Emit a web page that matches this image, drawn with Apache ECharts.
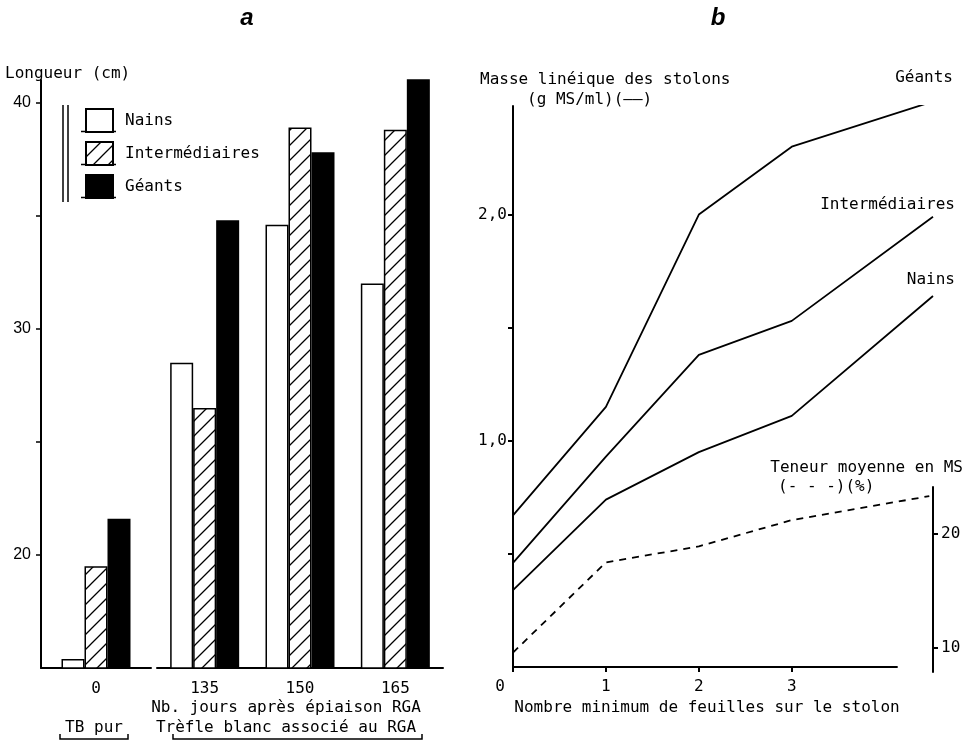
<!DOCTYPE html>
<html>
<head>
<meta charset="utf-8">
<script src="https://cdn.jsdelivr.net/npm/echarts@6/dist/echarts.min.js"></script>
<style>
  body { margin: 0; background: #fff; }
  #chart { width: 966px; height: 744px; }
</style>
</head>
<body>
<div id="chart"></div>
<script>
// panel a : stolon length by class
const groupPure = ['0'];
const groupRGA = ['135', '150', '165'];
const lenNains = [15.4, 28.5, 34.6, 32.0];
const lenInter = [19.5, 26.5, 38.9, 38.8];
const lenGeants = [21.6, 34.8, 37.8, 41.5];
const lenTicks = [20, 25, 30, 35, 40];
const lenLabels = [20, 30, 40];

// panel b : linear mass vs minimum number of leaves
const leaves = [0, 1, 2, 3, 4.52];
const massGeants = [0.67, 1.15, 2.0, 2.30, 2.50];
const massInter = [0.46, 0.93, 1.38, 1.53, 1.99];
const massNains = [0.34, 0.74, 0.95, 1.11, 1.64];
const leavesDm = [0, 1, 2, 3, 4.48];
const dmContent = [9.6, 17.5, 18.9, 21.2, 23.3];
const leafTicks = [0, 1, 2, 3];
const leafAxisEnd = 4.14;
const massTicks = [0.5, 1, 1.5, 2];
const massLabels = [1, 2];
const dmTicks = [10, 20];

const MONO = '"DejaVu Sans Mono", monospace';
const SANS = '"Liberation Sans", Arial, sans-serif';

// hatch pattern for the intermediate class
const hatch = document.createElement('canvas');
hatch.width = 15;
hatch.height = 15;
(function () {
  const c = hatch.getContext('2d');
  c.fillStyle = '#fff';
  c.fillRect(0, 0, 15, 15);
  c.strokeStyle = '#000';
  c.lineWidth = 1.3;
  c.beginPath();
  c.moveTo(0, 15); c.lineTo(15, 0);
  c.moveTo(-2, 2); c.lineTo(2, -2);
  c.moveTo(13, 17); c.lineTo(17, 13);
  c.stroke();
})();
const hatchFill = { image: hatch, repeat: 'repeat' };

const pair = (xs, ys) => xs.map((x, i) => [x, ys[i]]);

const chartDom = document.getElementById('chart');
const myChart = echarts.init(chartDom);

const barBase = {
  type: 'bar',
  barWidth: 23,
  barGap: '0%',
};
const lineBase = {
  type: 'line',
  symbol: 'none',
  xAxisIndex: 2,
  yAxisIndex: 2,
  lineStyle: { color: '#000', width: 1.8 },
};
const txt = (text, x, y, align) => ({
  type: 'text',
  style: { text: text, x: x, y: y, textAlign: align || 'left', textVerticalAlign: 'middle',
    font: '16px ' + MONO, fill: '#000' },
});

const option = {
  animation: false,
  backgroundColor: '#fff',
  legend: {
    data: ['Nains', 'Intermédiaires', 'Géants'],
    orient: 'vertical',
    left: 85,
    top: 108,
    padding: 0,
    itemWidth: 27,
    itemHeight: 23,
    itemGap: 8,
    icon: 'rect',
    selectedMode: false,
    textStyle: { fontFamily: MONO, fontSize: 16, color: '#000', padding: [0, 0, 0, 7] },
  },
  grid: [
    { left: 41, top: 80, width: 110, height: 588 },
    { left: 157, top: 80, width: 286, height: 588 },
    { left: 513, top: 106, width: 420, height: 561 },
    { left: 513, top: 487, width: 420, height: 185 },
  ],
  xAxis: [
    {
      gridIndex: 0, type: 'category', data: groupPure,
      axisLine: { lineStyle: { color: '#000', width: 2 } },
      axisTick: { show: false },
      axisLabel: { color: '#000', fontFamily: MONO, fontSize: 16, margin: 13 },
    },
    {
      gridIndex: 1, type: 'category', data: groupRGA,
      axisLine: { lineStyle: { color: '#000', width: 2 } },
      axisTick: { show: false },
      axisLabel: { color: '#000', fontFamily: MONO, fontSize: 16, margin: 13 },
    },
    {
      gridIndex: 2, type: 'value', min: 0, max: 4.52,
      splitLine: { show: false },
      axisLine: { show: false },
      axisTick: { show: true, customValues: leafTicks, length: 5, lineStyle: { color: '#000', width: 2 } },
      axisLabel: {
        customValues: leafTicks, color: '#000', fontFamily: MONO, fontSize: 16, margin: 12,
        formatter: (v) => (v === 0 ? '{z|0}' : String(v)),
        rich: { z: { fontFamily: MONO, fontSize: 16, color: '#000', padding: [0, 26, 0, 0] } },
      },
    },
    {
      gridIndex: 3, type: 'value', min: 0, max: 4.52, show: false,
    },
  ],
  yAxis: [
    {
      gridIndex: 0, type: 'value', min: 15, max: 41,
      splitLine: { show: false },
      axisLine: { show: true, lineStyle: { color: '#000', width: 2 } },
      axisTick: { show: true, customValues: lenTicks, length: 5, lineStyle: { color: '#000', width: 1.5 } },
      axisLabel: { customValues: lenLabels, color: '#000', fontFamily: SANS, fontSize: 16, margin: 10 },
    },
    {
      gridIndex: 1, type: 'value', min: 15, max: 41, show: false,
    },
    {
      gridIndex: 2, type: 'value', min: 0, max: 2.48,
      splitLine: { show: false },
      axisLine: { show: true, onZero: false, lineStyle: { color: '#000', width: 2 } },
      axisTick: { show: true, customValues: massTicks, length: 5, lineStyle: { color: '#000', width: 2 } },
      axisLabel: {
        customValues: massLabels, color: '#000', fontFamily: MONO, fontSize: 16, margin: 6,
        formatter: (v) => v.toFixed(1).replace('.', ','),
      },
    },
    {
      gridIndex: 3, type: 'value', min: 7.9, max: 24.1, position: 'right',
      splitLine: { show: false },
      axisLine: { show: true, onZero: false, lineStyle: { color: '#000', width: 2 } },
      axisTick: { show: true, customValues: dmTicks, length: 5, lineStyle: { color: '#000', width: 2 } },
      axisLabel: { customValues: dmTicks, color: '#000', fontFamily: MONO, fontSize: 16, margin: 8 },
    },
  ],
  series: [
    Object.assign({}, barBase, { name: 'Nains', xAxisIndex: 0, yAxisIndex: 0, data: lenNains.slice(0, 1),
      itemStyle: { color: '#fff', borderColor: '#000', borderWidth: 1.5 } }),
    Object.assign({}, barBase, { name: 'Intermédiaires', xAxisIndex: 0, yAxisIndex: 0, data: lenInter.slice(0, 1),
      itemStyle: { color: hatchFill, borderColor: '#000', borderWidth: 1.5 } }),
    Object.assign({}, barBase, { name: 'Géants', xAxisIndex: 0, yAxisIndex: 0, data: lenGeants.slice(0, 1),
      itemStyle: { color: '#000', borderColor: '#000', borderWidth: 1.5 } }),
    Object.assign({}, barBase, { name: 'Nains', xAxisIndex: 1, yAxisIndex: 1, data: lenNains.slice(1),
      itemStyle: { color: '#fff', borderColor: '#000', borderWidth: 1.5 } }),
    Object.assign({}, barBase, { name: 'Intermédiaires', xAxisIndex: 1, yAxisIndex: 1, data: lenInter.slice(1),
      itemStyle: { color: hatchFill, borderColor: '#000', borderWidth: 1.5 } }),
    Object.assign({}, barBase, { name: 'Géants', xAxisIndex: 1, yAxisIndex: 1, data: lenGeants.slice(1),
      itemStyle: { color: '#000', borderColor: '#000', borderWidth: 1.5 } }),
    Object.assign({}, lineBase, {
      name: 'Géants (b)', data: pair(leaves, massGeants),
      // x axis line of panel b stops before the end of the curves
      markLine: {
        silent: true, symbol: 'none', label: { show: false },
        lineStyle: { color: '#000', width: 2, type: 'solid' },
        data: [[{ coord: [0, 0] }, { coord: [leafAxisEnd, 0] }]],
      },
    }),
    Object.assign({}, lineBase, { name: 'Intermédiaires (b)', data: pair(leaves, massInter) }),
    Object.assign({}, lineBase, { name: 'Nains (b)', data: pair(leaves, massNains) }),
    Object.assign({}, lineBase, {
      name: 'Teneur MS', xAxisIndex: 3, yAxisIndex: 3, data: pair(leavesDm, dmContent),
      lineStyle: { color: '#000', width: 1.8, type: [7, 6] },
    }),
  ],
  graphic: [
    { type: 'text', style: { text: 'a', x: 247, y: 18, textAlign: 'center', textVerticalAlign: 'middle',
      font: 'italic bold 24px ' + SANS, fill: '#000' } },
    { type: 'text', style: { text: 'b', x: 718, y: 18, textAlign: 'center', textVerticalAlign: 'middle',
      font: 'italic bold 24px ' + SANS, fill: '#000' } },
    txt('Longueur (cm)', 5, 74),
    // legend frame marks
    { type: 'line', shape: { x1: 63, y1: 105, x2: 63, y2: 202 }, style: { stroke: '#000', lineWidth: 1.5 } },
    { type: 'line', shape: { x1: 68, y1: 105, x2: 68, y2: 202 }, style: { stroke: '#000', lineWidth: 1.5 } },
    { type: 'line', shape: { x1: 81, y1: 131.5, x2: 116, y2: 131.5 }, style: { stroke: '#000', lineWidth: 1.5 } },
    { type: 'line', shape: { x1: 81, y1: 164.5, x2: 116, y2: 164.5 }, style: { stroke: '#000', lineWidth: 1.5 } },
    { type: 'line', shape: { x1: 81, y1: 197.5, x2: 116, y2: 197.5 }, style: { stroke: '#000', lineWidth: 1.5 } },
    // panel a bottom texts
    txt('Nb. jours après épiaison RGA', 286, 708, 'center'),
    txt('Trèfle blanc associé au RGA', 286, 728, 'center'),
    txt('TB pur', 94, 728, 'center'),
    { type: 'polyline', shape: { points: [[60, 734], [60, 739], [128, 739], [128, 734]] },
      style: { stroke: '#000', lineWidth: 1.5, fill: null } },
    { type: 'polyline', shape: { points: [[173, 734], [173, 739], [422, 739], [422, 734]] },
      style: { stroke: '#000', lineWidth: 1.5, fill: null } },
    // panel b texts
    txt('Masse linéique des stolons', 480, 80),
    txt('(g MS/ml)(——)', 527, 100),
    txt('Géants', 953, 78, 'right'),
    txt('Intermédiaires', 955, 205, 'right'),
    txt('Nains', 955, 280, 'right'),
    txt('Teneur moyenne en MS', 963, 468, 'right'),
    txt('(- - -)(%)', 778, 487),
    txt('Nombre minimum de feuilles sur le stolon', 707, 708, 'center'),
  ],
};

myChart.setOption(option);

window.addEventListener('resize', () => {
  myChart.resize();
});
</script>
</body>
</html>
